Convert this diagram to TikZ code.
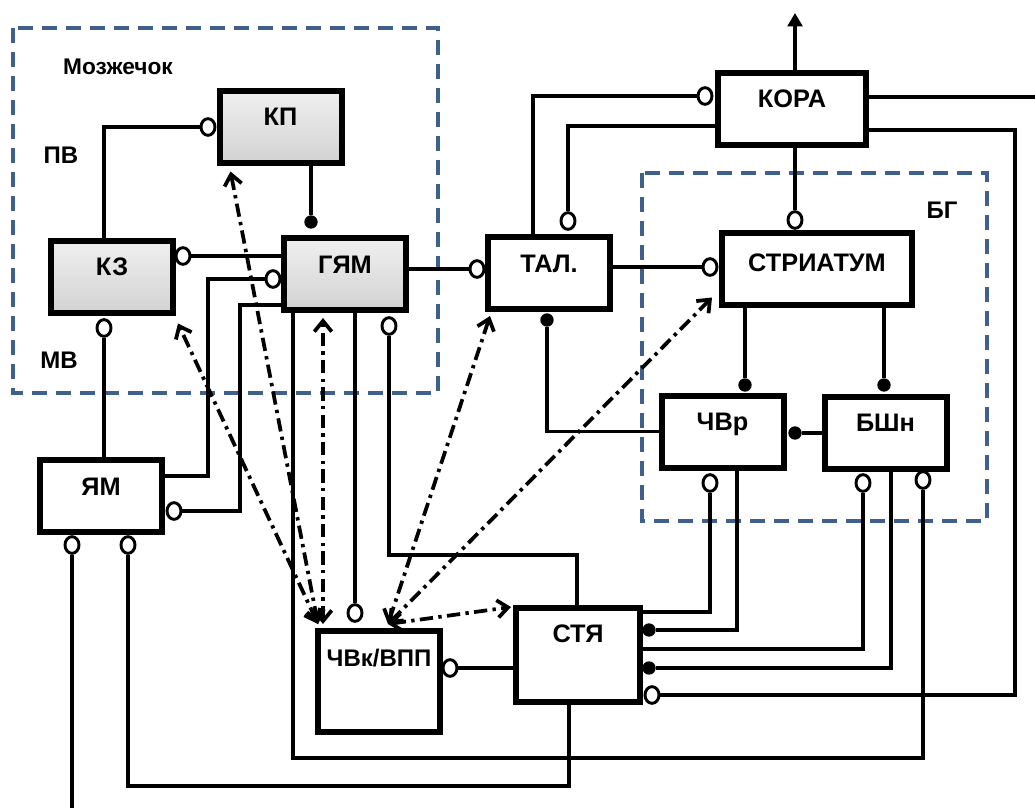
\documentclass[tikz,border=0pt]{standalone}
\usepackage{fontspec}
\setmainfont{Liberation Sans}
\usetikzlibrary{shapes.geometric,arrows.meta,calc}
\definecolor{dashblue}{RGB}{63,96,140}
\tikzset{
  blk/.style={draw, fill=white, line width=4.5pt, inner sep=0pt, minimum width=91.5pt, minimum height=54pt,
    text height=14pt, text depth=15pt, font=\fontsize{19}{21}\selectfont\bfseries},
  marble/.style={top color=gray!12, bottom color=gray!35},
  ln/.style={line width=2.6pt},
  ocirc/.style={ellipse, draw, fill=white, line width=2.2pt, minimum width=10.5pt, minimum height=12.5pt, inner sep=0pt},
  dot/.style={circle, fill=black, minimum size=10pt, inner sep=0pt},
  grp/.style={draw=dashblue, line width=3pt, dash pattern=on 11pt off 7pt},
  dd/.style={line width=2.8pt, dash pattern=on 10pt off 4pt on 2.5pt off 4pt, <->},
  lbl/.style={font=\fontsize{18}{20}\selectfont\bfseries}
}
\begin{document}
\begin{tikzpicture}[x=0.75pt, y=-0.75pt, >={Straight Barb[length=8pt,width=13pt]}]
  \useasboundingbox (0,0) rectangle (1035,810);
  % groups
  \draw[grp] (13,28) rectangle (438,393);
  \draw[grp] (642,173) rectangle (987,521);
  \node[font=\fontsize{17}{19}\selectfont\bfseries] (cer) at (118,67) {Мозжечок};
  \node[lbl] (pv) at (61,155) {ПВ};
  \node[lbl] (mv) at (59,360) {МВ};
  \node[lbl] (bg) at (942,210) {БГ};
  % blocks
  \node[blk, marble] (kp) at (280.5,126.5) {КП};
  \node[blk, marble] (kz) at (112,276.5) {КЗ};
  \node[blk, marble] (gyam) at (345,274) {ГЯМ};
  \node[blk] (yam) at (101,496) {ЯМ};
  \node[blk] (tal) at (549,273) {ТАЛ.};
  \node[blk, minimum width=111pt] (kora) at (792,108.5) {КОРА};
  \node[blk, minimum width=142.5pt, text depth=10pt] (str) at (817,268.5) {СТРИАТУМ};
  \node[blk] (chvr) at (722.5,431.5) {ЧВр};
  \node[blk] (bshn) at (885.5,432.5) {БШн};
  \node[blk, font=\fontsize{18}{20}\selectfont\bfseries, minimum height=75.75pt, text depth=36pt] (chvk) at (379,681.5) {ЧВк/ВПП};
  \node[blk, minimum width=93pt, minimum height=70.5pt, text depth=33pt] (stya) at (578,655) {СТЯ};
  % synapses
  \foreach \n/\x/\y in {ckp/208/127, ckz/183/256, cgyl/273/279, ckzb/104/328, cyamr/174/511,
      cyb1/72/545, cyb2/128/545, cgyb/389/326, cchvt/355/613, cchvr/450/668, ctall/477/269,
      ctalt/568/221, ckora/705/96, cstrl/710/267, cstrt/795/220, cchvrb/710/483, cbs1/863/483,
      cbs2/923/480, cstya/652/695}
    \node[ocirc] (\n) at (\x,\y) {};
  \foreach \n/\x/\y in {dgyt/311/222, dtalb/547/320, dchvrt/745/385, dbsht/884/385,
      dchvrr/795/433, ds1/649/630, ds2/649/668}
    \node[dot] (\n) at (\x,\y) {};
  \coordinate (a1) at (208,476);
  \coordinate (a2) at (240,511);
  \coordinate (a3) at (569,786);
  \coordinate (a4) at (293,758);
  \coordinate (a5) at (577,555);
  \coordinate (a6) at (533,96);
  \coordinate (a7) at (568,126);
  \coordinate (a8) at (1015,130);
  \coordinate (kr) at (1035,97);
  \coordinate (up) at (795,13);
  \coordinate (bl) at (72,808);
  \coordinate (v1) at (318,624);
  \coordinate (v2) at (388,624);
  % connections
  \draw[ln] (ckzb |- kz.north) |- (ckp);
  \draw[ln] (dgyt |- kp.south) -- (dgyt);
  \draw[ln] (ckz) -- (ckz -| gyam.west);
  \draw[ln] (cgyl) -| (a1) -- (a1 -| yam.east);
  \draw[ln] ($(gyam.south west)+(0,-8)$) -| (a2) -- (cyamr);
  \draw[ln] (ckzb) -- (ckzb |- yam.north);
  \draw[ln] (cyb1) -- (bl);
  \draw[ln] (cyb2) |- (a3) -- (a3 |- stya.south);
  \draw[ln] (a4 |- gyam.south) -- (a4) -| (cbs2);
  \draw[ln] (cchvt |- gyam.south) -- (cchvt);
  \draw[ln] (cgyb) |- (a5) -- (a5 |- stya.north);
  \draw[ln] (cchvr) -- (cchvr -| stya.west);
  \draw[ln] (ctall -| gyam.east) -- (ctall);
  \draw[ln] (a6 |- tal.north) -- (a6) -- (ckora);
  \draw[ln] (ctalt) -- (a7) -- (a7 -| kora.west);
  \draw[ln] (cstrl -| tal.east) -- (cstrl);
  \draw[ln, -{Triangle[length=10pt,width=11pt]}] (up |- kora.north) -- (up);
  \draw[ln] (kr -| kora.east) -- (kr);
  \draw[ln] (cstya) -| (a8) -- (a8 -| kora.east);
  \draw[ln] (cstrt |- kora.south) -- (cstrt);
  \draw[ln] (dchvrt |- str.south) -- (dchvrt);
  \draw[ln] (dbsht |- str.south) -- (dbsht);
  \draw[ln] (dchvrr) -- (dchvrr -| bshn.west);
  \draw[ln] (dtalb) |- (chvr.west);
  \draw[ln] (cchvrb) |- ($(stya.north east)+(0,7)$);
  \draw[ln] (ds1) -| ($(chvr.south)+(14.5,0)$);
  \draw[ln] (cbs1) |- ($(stya.east)+(0,-6)$);
  \draw[ln] (ds2) -| ($(bshn.south)+(5.5,0)$);
  % dopamine paths
  \draw[dd] (v1) -- ($(kz.south east)+(2,8)$);
  \draw[dd] (v1) -- ($(kp.south)+(-50,6)$);
  \draw[dd] ($(v1)+(5,0)$) -- ($(gyam.south)+(-22,5)$);
  \draw[dd] (v2) -- ($(tal.south west)+(5,4)$);
  \draw[dd] (v2) -- ($(str.south west)+(-7,-10)$);
  \draw[dd] (v2) -- ($(stya.north west)+(-2,2)$);
\end{tikzpicture}
\end{document}
